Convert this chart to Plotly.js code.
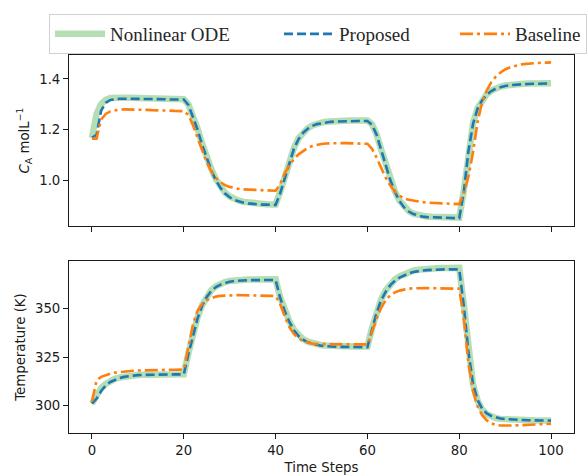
<!DOCTYPE html>
<html>
<head>
<meta charset="utf-8">
<script src="https://cdn.plot.ly/plotly-3.0.1.min.js"></script>
<style>
  html, body { margin: 0; padding: 0; background: #fff; }
  #chart { width: 587px; height: 475px; }
</style>
</head>
<body>
<div id="chart"></div>
<script>
// ---- data ----
const timeSteps = [0,1,2,3,4,5,6,7,8,9,10,11,12,13,14,15,16,17,18,19,20,
  21,22,23,24,25,26,27,28,29,30,31,32,33,34,35,36,37,38,39,40,
  41,42,43,44,45,46,47,48,49,50,51,52,53,54,55,56,57,58,59,60,
  61,62,63,64,65,66,67,68,69,70,71,72,73,74,75,76,77,78,79,80,
  81,82,83,84,85,86,87,88,89,90,91,92,93,94,95,96,97,98,99,100];

// Concentration C_A (mol/L)
const odeCA = [1.168,1.262,1.301,1.318,1.325,1.327,1.327,1.326,1.326,1.325,1.325,
  1.324,1.324,1.323,1.323,1.322,1.322,1.321,1.321,1.320,1.320,
  1.300,1.255,1.205,1.145,1.090,1.045,1.005,0.975,0.952,0.937,
  0.927,0.921,0.916,0.913,0.911,0.909,0.908,0.907,0.906,0.906,
  0.955,1.014,1.075,1.128,1.166,1.190,1.206,1.217,1.224,1.228,
  1.231,1.233,1.234,1.235,1.235,1.236,1.236,1.236,1.236,1.236,
  1.222,1.182,1.122,1.062,1.003,0.957,0.921,0.896,0.880,0.870,
  0.864,0.860,0.858,0.857,0.856,0.855,0.855,0.854,0.854,0.854,
  0.960,1.120,1.225,1.285,1.318,1.340,1.354,1.364,1.370,1.374,
  1.377,1.379,1.380,1.381,1.382,1.382,1.383,1.383,1.383,1.383];

const proposedCA = [1.168,1.180,1.275,1.306,1.317,1.321,1.322,1.322,1.322,1.321,1.321,
  1.321,1.321,1.320,1.320,1.320,1.320,1.319,1.319,1.319,1.319,
  1.298,1.252,1.200,1.140,1.086,1.040,1.001,0.971,0.949,0.934,
  0.924,0.918,0.913,0.910,0.908,0.906,0.905,0.905,0.904,0.904,
  0.950,1.010,1.072,1.125,1.163,1.188,1.204,1.215,1.222,1.226,
  1.229,1.231,1.232,1.233,1.233,1.234,1.234,1.234,1.234,1.234,
  1.220,1.180,1.120,1.060,1.001,0.955,0.919,0.894,0.878,0.868,
  0.862,0.858,0.856,0.855,0.854,0.853,0.853,0.852,0.852,0.852,
  0.955,1.115,1.222,1.283,1.316,1.338,1.352,1.362,1.368,1.372,
  1.375,1.377,1.378,1.379,1.380,1.381,1.381,1.382,1.382,1.382];

const baselineCA = [1.165,1.165,1.240,1.262,1.272,1.277,1.279,1.280,1.280,1.279,1.279,
  1.278,1.278,1.277,1.277,1.276,1.275,1.275,1.274,1.274,1.273,
  1.258,1.218,1.168,1.118,1.072,1.036,1.010,0.993,0.982,0.975,
  0.970,0.967,0.965,0.964,0.963,0.962,0.961,0.961,0.960,0.960,
  0.985,1.028,1.060,1.085,1.103,1.117,1.128,1.136,1.141,1.144,
  1.146,1.147,1.147,1.147,1.147,1.146,1.146,1.146,1.145,1.145,
  1.125,1.090,1.050,1.010,0.980,0.956,0.940,0.930,0.924,0.920,
  0.917,0.915,0.913,0.912,0.911,0.910,0.909,0.908,0.908,0.907,
  0.950,1.015,1.110,1.230,1.310,1.355,1.387,1.410,1.425,1.437,
  1.445,1.451,1.455,1.458,1.460,1.462,1.463,1.464,1.464,1.465];

// Temperature (K)
const odeT = [301.0,305.5,309.0,311.2,312.8,313.8,314.5,315.0,315.4,315.6,315.8,
  315.9,316.0,316.0,316.1,316.1,316.1,316.2,316.2,316.2,316.2,
  327.0,337.0,345.5,352.0,356.5,359.6,361.6,362.9,363.8,364.4,
  364.8,365.0,365.1,365.2,365.2,365.3,365.3,365.3,365.3,365.3,
  356.0,349.0,343.5,339.2,336.2,334.3,333.0,332.2,331.6,331.2,
  331.0,330.8,330.7,330.6,330.6,330.5,330.5,330.5,330.5,330.5,
  340.0,348.5,355.0,359.5,362.8,365.2,366.8,368.0,369.0,369.7,
  370.2,370.5,370.7,370.9,371.0,371.1,371.1,371.2,371.2,371.2,
  352.0,328.0,311.0,302.5,298.0,295.5,294.2,293.5,293.1,292.9,
  292.8,292.6,292.5,292.5,292.4,292.4,292.3,292.3,292.2,292.2];

const proposedT = [301.0,303.5,307.5,310.3,312.2,313.4,314.2,314.8,315.2,315.5,315.7,
  315.8,315.9,315.9,316.0,316.0,316.0,316.1,316.1,316.1,316.1,
  326.5,336.5,345.0,351.6,356.1,359.2,361.2,362.5,363.4,364.0,
  364.4,364.6,364.7,364.8,364.8,364.9,364.9,364.9,364.9,364.9,
  355.7,348.7,343.2,338.9,335.9,334.0,332.7,331.9,331.3,330.9,
  330.7,330.5,330.4,330.3,330.3,330.2,330.2,330.2,330.2,330.2,
  339.6,348.0,354.4,358.9,362.2,364.5,366.1,367.3,368.3,369.0,
  369.5,369.8,370.0,370.2,370.3,370.4,370.4,370.4,370.4,370.4,
  351.5,327.8,311.2,302.9,298.4,295.9,294.6,293.8,293.3,293.0,
  292.8,292.6,292.5,292.5,292.4,292.4,292.3,292.3,292.2,292.2];

const baselineT = [302.0,313.0,314.8,315.8,316.5,317.0,317.3,317.6,317.8,318.0,318.1,
  318.2,318.3,318.3,318.4,318.4,318.5,318.5,318.5,318.6,318.6,
  330.0,342.0,349.0,352.5,354.5,355.6,356.3,356.7,356.9,357.0,
  357.1,357.1,357.0,357.0,356.9,356.9,356.8,356.8,356.7,356.6,
  352.5,346.0,340.5,337.0,334.7,333.3,332.5,332.0,331.8,331.7,
  331.7,331.6,331.6,331.6,331.6,331.6,331.6,331.6,331.6,331.6,
  338.0,345.0,350.5,354.5,357.0,358.5,359.4,360.0,360.4,360.6,
  360.7,360.7,360.7,360.7,360.6,360.6,360.5,360.5,360.4,360.4,
  345.0,322.0,307.5,299.5,295.0,292.3,290.8,290.0,289.7,289.6,
  289.6,289.7,289.8,289.9,290.1,290.2,290.3,290.4,290.5,290.6];

const seriesNames = ['Nonlinear ODE', 'Proposed', 'Baseline'];
const xTickVals = [0, 20, 40, 60, 80, 100];
const caTickVals = [1.0, 1.2, 1.4];
const tTickVals = [300, 325, 350];

// ---- styles ----
const odeLine = {color: 'rgba(44,160,44,0.35)', width: 6.5};
const propLine = {color: '#1f77b4', width: 2.6, dash: '9px,4px'};
const baseLine = {color: '#ff7f0e', width: 2.6, dash: '13px,4px,3px,4px'};

const traces = [
  {x: timeSteps, y: odeCA, xaxis: 'x', yaxis: 'y', mode: 'lines', name: seriesNames[0], line: odeLine, legendwidth: 164, showlegend: true},
  {x: timeSteps, y: proposedCA, xaxis: 'x', yaxis: 'y', mode: 'lines', name: seriesNames[1], line: propLine, legendwidth: 111, showlegend: true},
  {x: timeSteps, y: baselineCA, xaxis: 'x', yaxis: 'y', mode: 'lines', name: seriesNames[2], line: baseLine, showlegend: true},
  {x: timeSteps, y: odeT, xaxis: 'x2', yaxis: 'y2', mode: 'lines', name: seriesNames[0], line: odeLine, showlegend: false},
  {x: timeSteps, y: proposedT, xaxis: 'x2', yaxis: 'y2', mode: 'lines', name: seriesNames[1], line: propLine, showlegend: false},
  {x: timeSteps, y: baselineT, xaxis: 'x2', yaxis: 'y2', mode: 'lines', name: seriesNames[2], line: baseLine, showlegend: false}
];

const tickFont = {family: 'DejaVu Sans', size: 13.3, color: '#1a1a1a'};
const titleFont = {family: 'DejaVu Sans', size: 13.3, color: '#1a1a1a'};
const axisCommon = {
  showline: true, linecolor: '#1a1a1a', linewidth: 1, mirror: true,
  ticks: 'outside', ticklen: 5, tickwidth: 1, tickcolor: '#1a1a1a',
  showgrid: false, zeroline: false, tickfont: tickFont
};

const layout = {
  width: 587, height: 475,
  margin: {l: 68.5, r: 13, t: 55, b: 42},
  paper_bgcolor: '#ffffff', plot_bgcolor: '#ffffff',
  font: {family: 'DejaVu Sans', size: 13.3, color: '#1a1a1a'},
  showlegend: true,
  legend: {
    orientation: 'h', x: -0.0366, xanchor: 'left', y: 1.1085, yanchor: 'top',
    font: {family: 'Liberation Serif', size: 19, color: '#262626'},
    bgcolor: '#ffffff', bordercolor: '#d0d0d0', borderwidth: 1,
    itemwidth: 50
  },
  xaxis: Object.assign({}, axisCommon, {
    domain: [0, 1], anchor: 'y', range: [-5, 105], tickvals: xTickVals,
    showticklabels: false, matches: 'x2'
  }),
  yaxis: Object.assign({}, axisCommon, {
    domain: [0.5476, 1], anchor: 'x', range: [0.821, 1.494],
    tickvals: caTickVals, tickformat: '.1f', automargin: true,
    title: {text: '<i>C</i><sub>A</sub> molL<sup>\u22121</sup>', font: titleFont, standoff: 6}
  }),
  xaxis2: Object.assign({}, axisCommon, {
    domain: [0, 1], anchor: 'y2', range: [-5, 105], tickvals: xTickVals,
    title: {text: 'Time Steps', font: titleFont}
  }),
  yaxis2: Object.assign({}, axisCommon, {
    domain: [0, 0.455], anchor: 'x2', range: [285.8, 374.7],
    tickvals: tTickVals, automargin: true,
    title: {text: 'Temperature (K)', font: titleFont, standoff: 6}
  })
};

Plotly.newPlot('chart', traces, layout, {displayModeBar: false, staticPlot: true});
</script>
</body>
</html>
